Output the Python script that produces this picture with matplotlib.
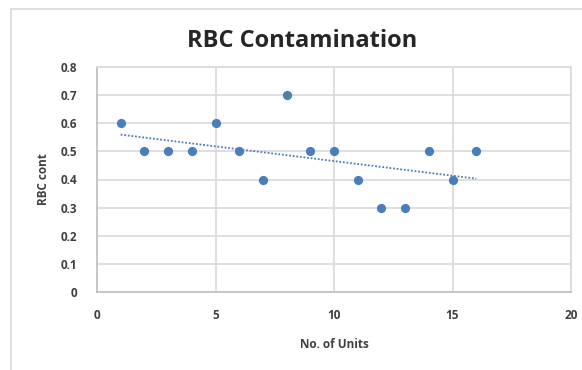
import numpy as np
import matplotlib.pyplot as plt
from matplotlib.patches import Rectangle

units = [1, 2, 3, 4, 5, 6, 7, 8, 9, 10, 11, 12, 13, 14, 15, 16]
rbc_cont = [0.6, 0.5, 0.5, 0.5, 0.6, 0.5, 0.4, 0.7, 0.5, 0.5, 0.4, 0.3, 0.3, 0.5, 0.4, 0.5]
x_ticks = [0, 5, 10, 15, 20]
y_ticks = [0, 0.1, 0.2, 0.3, 0.4, 0.5, 0.6, 0.7, 0.8]

plt.rcParams['font.family'] = ['Open Sans', 'DejaVu Sans']

W, H = 582, 370
fig = plt.figure(figsize=(W / 100, H / 100), dpi=100)
fig.patch.set_facecolor('white')

# chart frame (Excel style)
fig.add_artist(Rectangle((11 / W, -0.1), 2, 1.1 - 9 / H, transform=fig.transFigure,
                         fill=False, edgecolor='#d9d9d9', linewidth=1.2))

ax = fig.add_axes([97 / W, 1 - 292 / H, (571 - 97) / W, (292 - 67) / H])
blue = '#4a7ebb'

ax.scatter(units, rbc_cont, s=44, color=blue, zorder=3, linewidths=0)

# linear trendline
k, b = np.polyfit(units, rbc_cont, 1)
xt = np.array([min(units), max(units)])
ax.plot(xt, k * xt + b, linestyle=(0, (1, 1)), color=blue, linewidth=1.3, zorder=2)

ax.set_xlim(0, 20)
ax.set_ylim(0, 0.8)
ax.set_xticks(x_ticks)
ax.set_yticks(y_ticks)
ax.set_yticklabels(['0'] + [f'{v:.1f}' for v in y_ticks[1:]])
ax.grid(True, color='#d9d9d9', linewidth=1.2)
ax.set_axisbelow(True)
for s in ax.spines.values():
    s.set_color('#d9d9d9')
    s.set_linewidth(1.2)
ax.spines['bottom'].set_color('#bfbfbf')
ax.spines['left'].set_color('#bfbfbf')
ax.tick_params(axis='y', length=0, labelsize=8.5, colors='#404040', pad=14)
ax.tick_params(axis='x', length=0, labelsize=8.5, colors='#404040', pad=12)
for lbl in ax.get_xticklabels() + ax.get_yticklabels():
    lbl.set_fontweight('bold')

fig.text(302 / W, 1 - 41 / H, 'RBC Contamination', fontsize=17, fontweight='bold',
         color='#262626', ha='center', va='center')
ax.set_xlabel('No. of Units', fontsize=8.5, fontweight='bold', color='#404040', labelpad=12)
ax.set_ylabel('RBC cont', fontsize=8.5, fontweight='bold', color='#404040', labelpad=8)

fig.savefig('out.png', dpi=100)
